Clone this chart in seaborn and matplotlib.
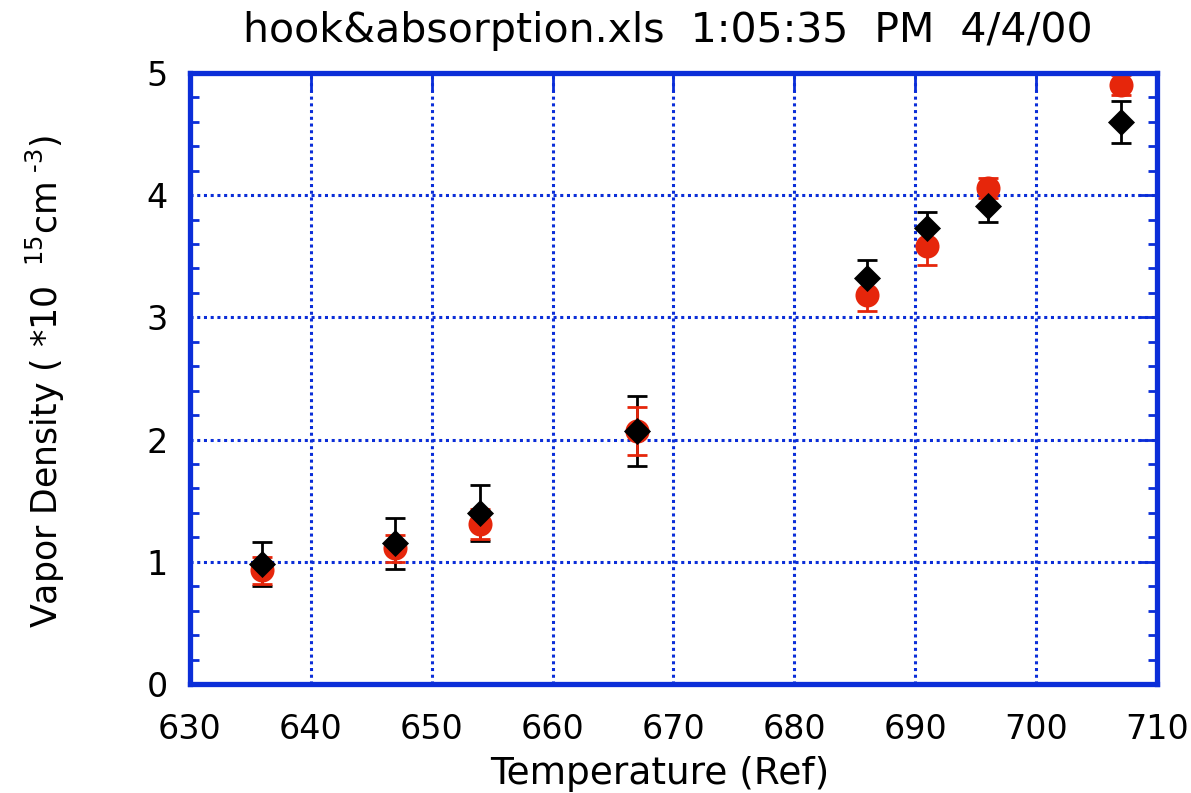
import matplotlib
matplotlib.use("Agg")
import matplotlib.pyplot as plt
from matplotlib.ticker import MultipleLocator
import seaborn as sns
import pandas as pd

# Reference temperatures
temperature = [636, 647, 654, 667, 686, 691, 696, 707]

# Absorption measurement (red circles)
absorption = [0.93, 1.11, 1.31, 2.07, 3.18, 3.58, 4.06, 4.90]
absorption_err = [0.11, 0.11, 0.12, 0.20, 0.13, 0.15, 0.08, 0.08]

# Hook measurement (black diamonds)
hook = [0.98, 1.15, 1.40, 2.07, 3.32, 3.73, 3.91, 4.60]
hook_err = [0.18, 0.21, 0.23, 0.29, 0.15, 0.13, 0.13, 0.17]

title_text = "hook&absorption.xls  1:05:35  PM  4/4/00"
x_label = "Temperature (Ref)"
y_label = r"Vapor Density ( *10 $^{\ 15}$cm$^{\ \text{-3}}$)"

frame_blue = "#0b2ed8"
red = "#e6260b"

sns.set_theme(style="white")
plt.rcParams["font.family"] = ["DejaVu Sans"]
plt.rcParams["mathtext.fontset"] = "dejavusans"

df = pd.DataFrame({
    "temperature": temperature * 2,
    "density": absorption + hook,
    "err": absorption_err + hook_err,
    "method": ["absorption"] * len(temperature) + ["hook"] * len(temperature),
})

fig = plt.figure(figsize=(11.91, 7.93), dpi=100)
ax = fig.add_axes([0.1595, 0.1375, 0.8119, 0.7705])

# error bars first, markers on top
ax.errorbar(temperature, hook, yerr=hook_err, fmt="none", ecolor="black",
            elinewidth=2, capsize=7, capthick=2, zorder=3)
ax.errorbar(temperature, absorption, yerr=absorption_err, fmt="none", ecolor=red,
            elinewidth=2, capsize=7, capthick=2, zorder=3)

sns.scatterplot(data=df[df.method == "absorption"], x="temperature", y="density",
                ax=ax, marker="o", s=300, color=red, edgecolor=red,
                linewidth=0, zorder=4, legend=False)
sns.scatterplot(data=df[df.method == "hook"], x="temperature", y="density",
                ax=ax, marker="D", s=190, color="black", edgecolor="black",
                linewidth=0, zorder=5, legend=False)

ax.set_xlim(630, 710)
ax.set_ylim(0, 5)
ax.xaxis.set_major_locator(MultipleLocator(10))
ax.yaxis.set_major_locator(MultipleLocator(1))
ax.yaxis.set_minor_locator(MultipleLocator(0.2))

ax.grid(True, which="major", color=frame_blue, linestyle=(0, (1, 1.2)), linewidth=2.2)
for s in ax.spines.values():
    s.set_color(frame_blue)
    s.set_linewidth(3.8)
    s.set_zorder(6)

ax.tick_params(axis="both", which="major", direction="in", length=14, width=2,
               color=frame_blue, labelsize=24, labelcolor="black",
               top=True, right=True)
ax.tick_params(axis="y", which="minor", direction="in", length=6.5, width=2,
               color=frame_blue, left=True, right=True)
ax.tick_params(axis="y", which="major", pad=16)
ax.tick_params(axis="x", which="major", pad=21)

ax.set_xlabel(x_label, fontsize=27, color="black")
ax.xaxis.set_label_coords(0.486, -0.118)
ax.set_ylabel(y_label, fontsize=25, color="black")
ax.yaxis.set_label_coords(-0.127, 0.495)
fig.text(0.561, 0.961, title_text, fontsize=29.5, ha="center", va="center", color="black")

fig.savefig("out.png", dpi=100, facecolor="white")
